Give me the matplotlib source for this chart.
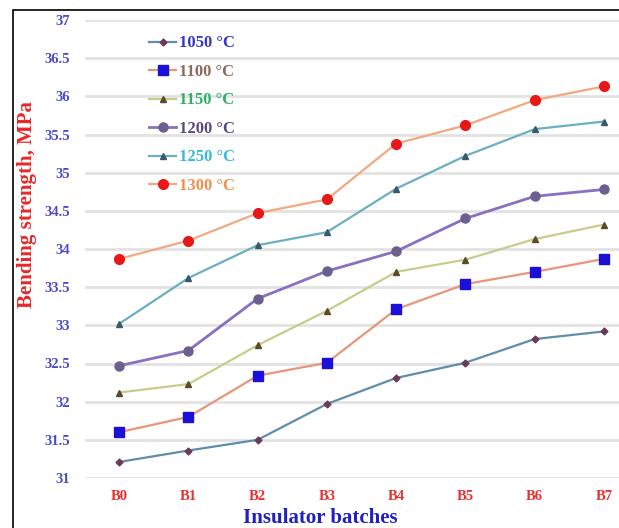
import matplotlib.pyplot as plt
from matplotlib.patches import Rectangle

batches = ['B0', 'B1', 'B2', 'B3', 'B4', 'B5', 'B6', 'B7']
s1050 = [31.21, 31.36, 31.50, 31.97, 32.31, 32.51, 32.82, 32.92]
s1100 = [31.60, 31.80, 32.34, 32.51, 33.21, 33.54, 33.70, 33.87]
s1150 = [32.12, 32.23, 32.74, 33.19, 33.70, 33.86, 34.13, 34.32]
s1200 = [32.47, 32.67, 33.35, 33.71, 33.97, 34.40, 34.69, 34.78]
s1250 = [33.02, 33.62, 34.05, 34.22, 34.79, 35.22, 35.57, 35.67]
s1300 = [33.87, 34.11, 34.47, 34.65, 35.38, 35.62, 35.95, 36.13]
labels = ['1050 °C', '1100 °C', '1150 °C', '1200 °C', '1250 °C', '1300 °C']

plt.rcParams['font.family'] = ['Liberation Serif', 'DejaVu Serif']
plt.rcParams['font.weight'] = 'bold'

fig = plt.figure(figsize=(6.19, 5.28), dpi=100)
ax = fig.add_axes([84.5 / 619, 50 / 528, 554 / 619, 458 / 528])

x = range(len(batches))
# line colour, marker, marker colour, size, legend text colour
styles = [
    ('#5f8fa8', 'D', '#6a3a5a', 3.5, '#3535c8'),
    ('#e8957a', 's', '#1a10d8', 6.5, '#8a6a5a'),
    ('#c8cc8a', '^', '#5a4a2a', 5, '#2fae6a'),
    ('#8a70c0', 'o', '#6a6090', 6.5, '#5a4a80'),
    ('#6ab0c0', '^', '#3a5a6a', 5, '#38b8e0'),
    ('#f4a880', 'o', '#e81818', 7, '#f09050'),
]
series = [s1050, s1100, s1150, s1200, s1250, s1300]
for vals, lab, (lc, mk, mc, ms, tc) in zip(series, labels, styles):
    lw = 2 if lab == '1200 °C' else 1.6
    ax.plot(x, vals, color=lc, lw=lw, marker=mk, markersize=ms,
            markerfacecolor=mc, markeredgecolor=mc, label=lab)

ax.set_xlim(-0.5, 7.5)
ax.set_ylim(31, 37)
ax.set_yticks([31, 31.5, 32, 32.5, 33, 33.5, 34, 34.5, 35, 35.5, 36, 36.5, 37])
ax.set_yticklabels(['31', '31.5', '32', '32.5', '33', '33.5', '34', '34.5', '35', '35.5', '36', '36.5', '37'],
                   color='#4a4ad0', fontsize=10.5, fontweight='bold')
ax.set_xticks(list(x))
ax.set_xticklabels(batches, color='#e83030', fontsize=10.5, fontweight='bold')
ax.tick_params(axis='x', length=0, pad=8.5)
ax.tick_params(axis='y', length=0, pad=10.4)
ax.grid(axis='y', color='#e2e2e2', lw=2)
ax.set_axisbelow(True)
for sp in ax.spines.values():
    sp.set_visible(False)

ax.set_ylabel('Bending strength, MPa', color='#e82828', fontsize=15, fontweight='bold')
ax.yaxis.set_label_coords(-0.086, 0.598)
ax.set_xlabel('Insulator batches', color='#2020c0', fontsize=15, fontweight='bold')
ax.xaxis.set_label_coords(0.425, -0.066)

leg = ax.legend(loc='upper left', bbox_to_anchor=(0.09, 0.999), frameon=False,
                fontsize=12, handlelength=1.6, handletextpad=0.2, labelspacing=0.75)
for t, st in zip(leg.get_texts(), styles):
    t.set_color(st[4])

fig.patches.append(Rectangle((13 / 619, -0.1), 1.2, (528 - 10) / 528 + 0.1,
                             transform=fig.transFigure, fill=False, ec='black', lw=1.2))

plt.savefig('out.png', dpi=100)
